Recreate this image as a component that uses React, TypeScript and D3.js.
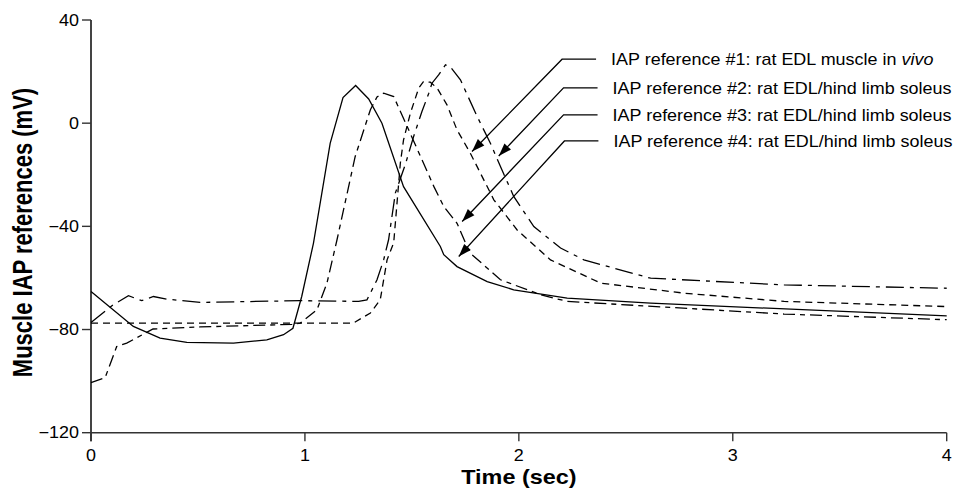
import React from 'react'
import * as d3 from 'd3'

// time (sec) / membrane potential (mV)
const ref1T = [0, 0.066, 0.12, 0.167, 0.29, 0.51, 0.94, 0.978, 1.056, 1.103, 1.15, 1.235, 1.306, 1.337, 1.368, 1.415, 1.478, 1.603, 1.649, 1.711, 1.758, 1.773, 1.914, 2.101, 2.226, 3.24, 4.0]
const ref1V = [-100.6, -98.7, -86.6, -85.3, -79.8, -79, -78, -77.5, -72.4, -62, -45.2, -12.9, 5.2, 10.2, 11.6, 10.3, -1.3, -24.6, -32.3, -38.8, -47.8, -50.4, -60.7, -66.5, -69.1, -74, -76.2]

const ref2T = [0, 1.226, 1.306, 1.352, 1.384, 1.415, 1.446, 1.461, 1.493, 1.532, 1.554, 1.586, 1.618, 1.664, 1.711, 1.773, 1.883, 1.992, 2.148, 2.382, 2.772, 3.24, 4.0]
const ref2V = [-77.5, -77.5, -73.6, -68.5, -53, -46.4, -15.5, -6.5, 3.9, 13.6, 16.1, 15.9, 13.6, 7.1, -2.6, -11.6, -29.7, -41.4, -53, -62, -65.9, -69.1, -71.1]

const ref3T = [0, 0.104, 0.175, 0.237, 0.292, 0.354, 0.51, 0.978, 1.251, 1.29, 1.337, 1.368, 1.391, 1.423, 1.469, 1.508, 1.547, 1.579, 1.594, 1.625, 1.657, 1.68, 1.727, 1.805, 1.867, 1.914, 1.976, 2.07, 2.195, 2.304, 2.616, 3.24, 4.0]
const ref3V = [-77.3, -70.4, -66.9, -68.8, -67.2, -68.2, -69.5, -68.8, -69.1, -68.5, -60.7, -53, -45.2, -27, -16.1, -5.2, 4.5, 11.6, 15.5, 18.7, 22.6, 21.8, 16.8, 2.6, -7.8, -16.8, -28.4, -40.1, -48.4, -53, -60.1, -62.7, -64]

const ref4T = [0, 0.198, 0.323, 0.448, 0.666, 0.822, 0.9, 0.944, 0.985, 1.04, 1.118, 1.178, 1.237, 1.298, 1.36, 1.461, 1.633, 1.649, 1.711, 1.852, 1.976, 2.226, 2.616, 4.0]
const ref4V = [-65.3, -78.8, -83.3, -85, -85.3, -84, -82, -79.5, -67.2, -46.5, -7.8, 9.9, 14.6, 9.4, 0, -24.6, -47.8, -51, -55.6, -61.4, -64.6, -67.8, -69.8, -74.7]

const xTicks = [0, 1, 2, 3, 4]
const yTicks = [40, 0, -40, -80, -120]

const labelTexts = [
  'IAP reference #1: rat EDL muscle in ',
  'IAP reference #2: rat EDL/hind limb soleus',
  'IAP reference #3: rat EDL/hind limb soleus',
  'IAP reference #4: rat EDL/hind limb soleus',
]
const labelItalic = ['vivo', '', '', '']
// arrow tips and elbows in data units
const tipT = [1.781, 1.906, 1.735, 1.719]
const tipV = [-11, -12.7, -38.1, -51.7]
const elbowT = [2.202, 2.209, 2.209, 2.213]
const elbowV = [24.8, 13.7, 3.2, -6.9]

const W = 957
const H = 491
const FONT = 'Liberation Sans, Arial, Helvetica, sans-serif'

const x = d3.scaleLinear().domain([0, 4]).range([91, 946.7])
const y = d3.scaleLinear().domain([-120, 40]).range([432.7, 20])

const series = [
  { t: ref1T, v: ref1V, dash: '12,5,5,5' },
  { t: ref2T, v: ref2V, dash: '7,5' },
  { t: ref3T, v: ref3V, dash: '18,6,4,6' },
  { t: ref4T, v: ref4V, dash: null },
]

const line = d3.line<[number, number]>()
  .x(d => x(d[0]))
  .y(d => y(d[1]))

const arrowHead = (x0: number, y0: number, x1: number, y1: number) => {
  const ang = Math.atan2(y1 - y0, x1 - x0)
  const len = 13, half = 4.5
  const bx = x1 - len * Math.cos(ang), by = y1 - len * Math.sin(ang)
  const px = -Math.sin(ang) * half, py = Math.cos(ang) * half
  return `M${x1},${y1}L${bx + px},${by + py}L${bx - px},${by - py}Z`
}

// the source figure is stretched horizontally, so text gets a scale(sx,1)
const App = () => {
  return (
    <svg width={W} height={H} style={{ position: 'absolute', left: 0, top: 0, background: '#fff' }}
      fontFamily={FONT}>
      {/* axes */}
      <line x1={x(0)} x2={x(0)} y1={y(40)} y2={y(-120) + 8.5} stroke="#444" strokeWidth={2} />
      <line x1={x(0)} x2={x(4)} y1={y(-120)} y2={y(-120)} stroke="#333" strokeWidth={1.6} />
      {yTicks.map(v => (
        <g key={'y' + v}>
          <line x1={x(0) - 9} x2={x(0)} y1={y(v)} y2={y(v)} stroke="#333" strokeWidth={1.4} />
          <text transform={`translate(${x(0) - 12},${y(v) + 5.6}) scale(1.15,1)`} textAnchor="end"
            fontSize={15.6}>{d3.format('d')(v)}</text>
        </g>
      ))}
      {xTicks.map(t => (
        <g key={'x' + t}>
          <line x1={x(t)} x2={x(t)} y1={y(-120)} y2={y(-120) + 8.5} stroke="#333" strokeWidth={1.4} />
          <text transform={`translate(${x(t)},${y(-120) + 28.5}) scale(1.15,1)`} textAnchor="middle"
            fontSize={15.6}>{t}</text>
        </g>
      ))}
      <text transform={`translate(${x(2)},${484}) scale(1.17,1)`} textAnchor="middle"
        fontSize={20} fontWeight="bold">Time (sec)</text>
      <text transform={`translate(${32},${232.5}) scale(1.26,1) rotate(-90)`} textAnchor="middle"
        fontSize={22} fontWeight="bold">Muscle IAP references (mV)</text>

      {/* series */}
      {series.map((s, i) => (
        <path key={'s' + i}
          d={line(s.t.map((t, j) => [t, s.v[j]] as [number, number])) || ''}
          fill="none" stroke="#000" strokeWidth={1.3}
          strokeDasharray={s.dash || undefined} />
      ))}

      {/* annotations */}
      {labelTexts.map((txt, i) => {
        const ex = x(elbowT[i]), ey = y(elbowV[i])
        const tx = x(tipT[i]), ty = y(tipV[i])
        const hx = ex + 34
        return (
          <g key={'a' + i}>
            <path d={`M${hx},${ey}L${ex},${ey}L${tx},${ty}`} fill="none" stroke="#000" strokeWidth={1.3} />
            <path d={arrowHead(ex, ey, tx, ty)} fill="#000" />
            <text transform={`translate(${hx + 15},${ey + 5.8}) scale(1.13,1)`} fontSize={15.9}>
              {txt}{labelItalic[i] && <tspan fontStyle="italic">{labelItalic[i]}</tspan>}
            </text>
          </g>
        )
      })}
    </svg>
  )
}

export default App
